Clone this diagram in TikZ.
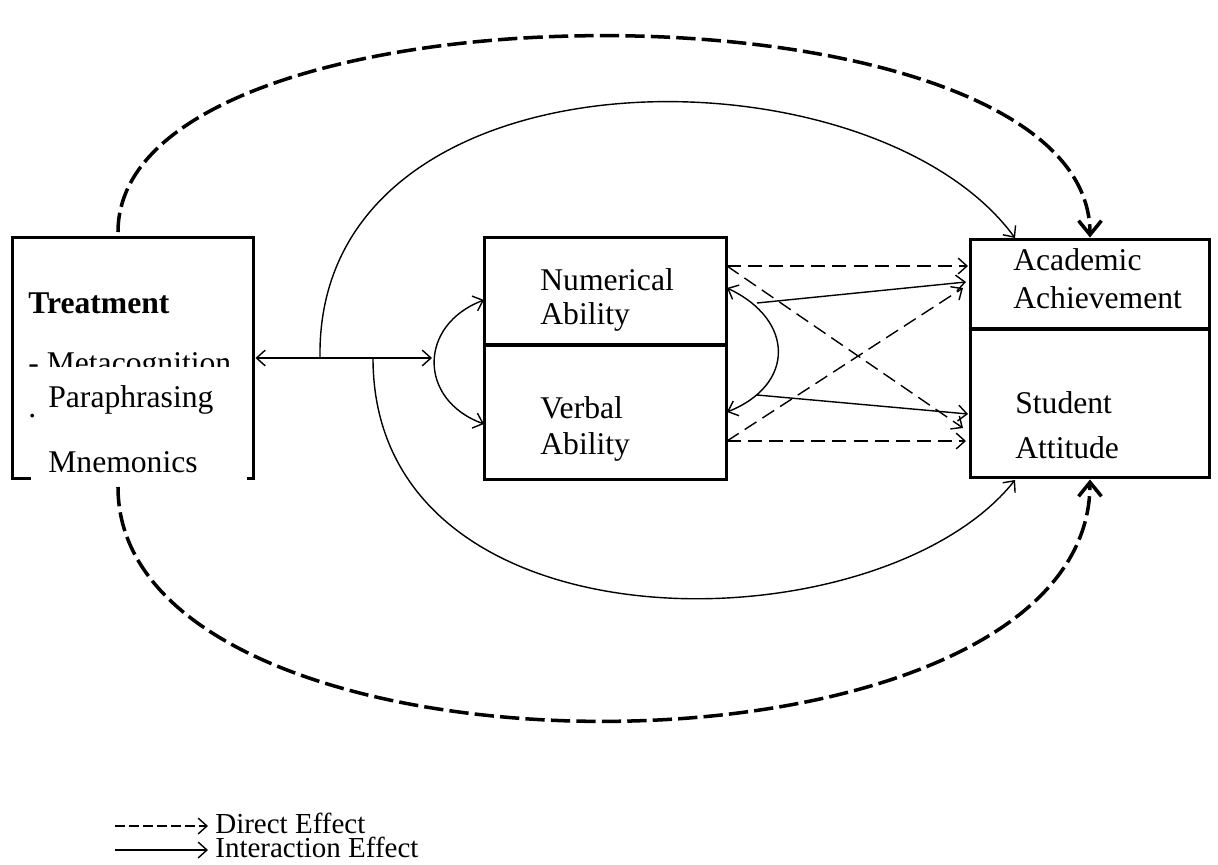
\documentclass[tikz,border=0pt]{standalone}
\usepackage{fontspec}
\setmainfont{Liberation Serif}
\usetikzlibrary{arrows.meta}
\tikzset{
  box/.style={draw, line width=1.7pt, inner sep=0pt},
  lbl/.style={anchor=base west, inner sep=0pt, font=\fontsize{18}{21}\selectfont},
  barb/.style={-{Straight Barb[length=5pt,width=9pt]}},
  link/.style={line width=0.8pt, barb},
  direct/.style={link, dash pattern=on 8pt off 4pt},
  bigdash/.style={line width=2pt, dash pattern=on 11pt off 3.5pt,
    -{Straight Barb[length=8pt,width=13pt]}},
}
\begin{document}
\begin{tikzpicture}[x=0.02cm, y=-0.02cm]
\useasboundingbox (0,0) rectangle (1218,865);
% boxes
\node[box, minimum width=4.84cm, minimum height=4.82cm] (treat) at (133,358) {};
\node[box, minimum width=4.86cm, minimum height=2.16cm] (num) at (605.5,291) {};
\node[box, minimum width=4.86cm, minimum height=2.7cm] (verb) at (605.5,412.5) {};
\node[box, minimum width=4.8cm, minimum height=1.8cm] (acad) at (1090,284) {};
\node[box, minimum width=4.8cm, minimum height=2.98cm] (att) at (1090,403.5) {};
% texts
\node[lbl] at (28,313) {\bfseries Treatment};
\node[lbl] at (28,373) {- Metacognition};
\node[fill=white, inner sep=0pt, minimum width=4.32cm, minimum height=2.42cm] (strat) at (139,427.5) {};
\node[lbl] at (48,407) {Paraphrasing};
\node[lbl] at (28,417) {.};
\node[lbl] at (48,472) {Mnemonics};
\node[lbl] at (540,290) {Numerical};
\node[lbl] at (540,324) {Ability};
\node[lbl] at (540,418) {Verbal};
\node[lbl] at (540,454) {Ability};
\node[lbl] at (1013,271) {Academic};
\node[lbl] at (1013,308) {Achievement};
\node[lbl] at (1015,413) {Student};
\node[lbl] at (1015,458) {Attitude};
% points
\coordinate (hub) at (432,358);
\coordinate (up) at (320,358);
\coordinate (dn) at (373,358);
\coordinate (aa) at (1015,238);
\coordinate (sa) at (1015,480);
\coordinate (nl) at (484,300);
\coordinate (vl) at (484,424);
\coordinate (nr) at (727,288);
\coordinate (vr) at (727,412);
\coordinate (ns) at (757,303);
\coordinate (vs) at (757,395);
\coordinate (ain) at (966,282);
\coordinate (tin) at (968,414);
\coordinate (n0) at (727,266);
\coordinate (a0) at (968,266);
\coordinate (v0) at (727,441);
\coordinate (t0) at (966,441);
\coordinate (tx) at (963,428);
\coordinate (ax) at (963,288);
\coordinate (ttop) at (118,232);
\coordinate (tbot) at (118,487);
% interaction effects
\draw[link, {Straight Barb[length=5pt,width=9pt]}-{Straight Barb[length=5pt,width=9pt]}] (treat.east) -- (hub);
\draw[link] (up) .. controls (315,40) and (870,40) .. (aa);
\draw[link] (dn) .. controls (373,660) and (880,650) .. (sa);
\draw[link, {Straight Barb[length=5pt,width=9pt]}-{Straight Barb[length=5pt,width=9pt]}] (nl) .. controls (418,325) and (418,400) .. (vl);
\draw[link, {Straight Barb[length=5pt,width=9pt]}-{Straight Barb[length=5pt,width=9pt]}] (nr) .. controls (795,320) and (795,385) .. (vr);
\draw[link] (ns) -- (ain);
\draw[link] (vs) -- (tin);
% direct effects
\draw[direct] (n0) -- (a0);
\draw[direct] (v0) -- (t0);
\draw[direct] (n0) -- (tx);
\draw[direct] (v0) -- (ax);
\draw[bigdash] (ttop) .. controls (118,-30) and (1090,-30) .. (acad.north);
\draw[bigdash] (tbot) .. controls (118,800) and (1090,800) .. (att.south);
% legend
\coordinate (d1) at (115,826);
\coordinate (d2) at (208,826);
\coordinate (i1) at (115,850);
\coordinate (i2) at (208,850);
\draw[link, dash pattern=on 5.5pt off 2.5pt] (d1) -- (d2);
\draw[link] (i1) -- (i2);
\node[lbl, font=\fontsize{16.5}{19}\selectfont] at (215,833) {Direct Effect};
\node[lbl, font=\fontsize{16.5}{19}\selectfont] at (215,857) {Interaction Effect};
\end{tikzpicture}
\end{document}
